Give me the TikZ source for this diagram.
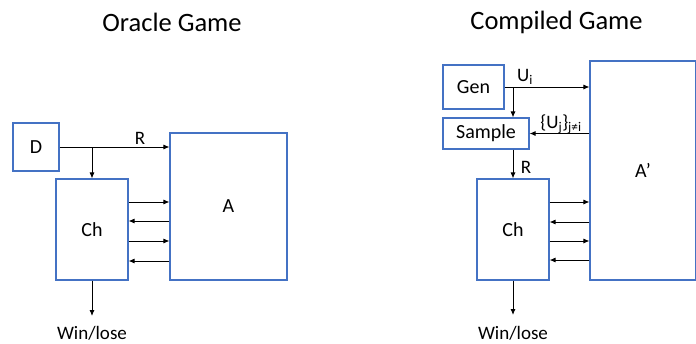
\documentclass[tikz,border=0pt]{standalone}
\usepackage{fontspec}
\setmainfont{Carlito}
\usepackage{tikz}
\usetikzlibrary{arrows,arrows.meta,positioning}
\definecolor{boxblue}{RGB}{68,114,196}
\tikzstyle{party} = [draw=boxblue, line width=1.1pt, rectangle, inner sep=0pt, font=\fontsize{20}{24}\selectfont]
\tikzstyle{flow} = [-{Latex[length=6pt,width=5pt]}, line width=0.9pt, black]
\tikzstyle{heading} = [font=\fontsize{26.5}{30}\selectfont]
\tikzstyle{lbl} = [inner sep=1pt, font=\fontsize{19}{22}\selectfont]

\begin{document}
\begin{tikzpicture}[x=1pt,y=-1pt]
	\useasboundingbox (0,0) rectangle (696,343);
	% oracle game
	\node[heading] (title1) at (172,22) {Oracle Game};
	\node[party, minimum width=46pt, minimum height=48pt] (d) at (36,147) {D};
	\node[party, minimum width=72pt, minimum height=101pt] (ch1) at (92,229.5) {Ch};
	\node[party, minimum width=117pt, minimum height=147pt] (a1) at (228.5,206.5) {A};
	\node[lbl] (r1) at (140,138) {R};
	\draw[flow] (d.east) -- (a1.west |- d.east);
	\draw[flow] (ch1.north |- d.east) -- (ch1.north);
	\foreach \y in {202,241}
		\draw[flow] (ch1.east |- 0,\y) -- (a1.west |- 0,\y);
	\foreach \y in {221,261}
		\draw[flow] (a1.west |- 0,\y) -- (ch1.east |- 0,\y);
	\coordinate (out1) at (92,316);
	\node[lbl, inner sep=0pt, anchor=base] (win1) at (92,339.5) {Win/lose};
	\draw[flow] (ch1.south) -- (out1);
	% compiled game
	\node[heading] (title2) at (556.5,22) {Compiled Game};
	\node[party, minimum width=61pt, minimum height=44pt] (gen) at (473.5,87) {Gen};
	\node[party, minimum width=86pt, minimum height=31pt] (sample) at (486,133.5) {Sample};
	\node[party, minimum width=72pt, minimum height=101pt] (ch2) at (513,229.5) {Ch};
	\node[party, minimum width=106pt, minimum height=219pt] (a2) at (643,170.5) {A’};
	\node[lbl] (ui) at (525,77) {U\textsubscript{i}};
	\node[lbl] (uj) at (561,124) {\{U\textsubscript{j}\}\textsubscript{j≠i}};
	\node[lbl] (r2) at (526,167) {R};
	\draw[flow] (gen.east) -- (a2.west |- gen.east);
	\draw[flow] (ch2.north |- gen.east) -- (ch2.north |- sample.north);
	\draw[flow] (a2.west |- sample.east) -- (sample.east);
	\draw[flow] (ch2.north |- sample.south) -- (ch2.north);
	\foreach \y in {202,241}
		\draw[flow] (ch2.east |- 0,\y) -- (a2.west |- 0,\y);
	\foreach \y in {222,260}
		\draw[flow] (a2.west |- 0,\y) -- (ch2.east |- 0,\y);
	\coordinate (out2) at (513,315);
	\node[lbl, inner sep=0pt, anchor=base] (win2) at (513,339.5) {Win/lose};
	\draw[flow] (ch2.south) -- (out2);
\end{tikzpicture}
\end{document}
